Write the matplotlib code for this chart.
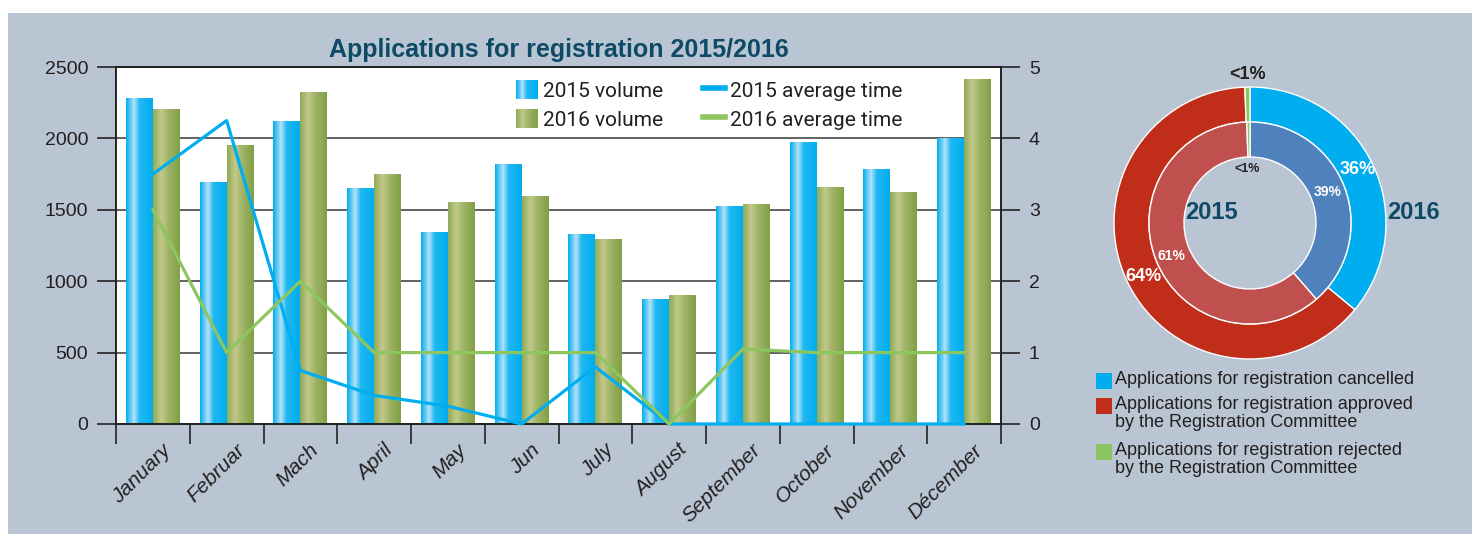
import numpy as np
from matplotlib import pyplot as plt
from matplotlib.patches import Rectangle
from matplotlib.lines import Line2D
from matplotlib.colors import LinearSegmentedColormap
from matplotlib.legend_handler import HandlerBase
from matplotlib.transforms import ScaledTranslation

months = ['January', 'Februar', 'Mach', 'April', 'May', 'Jun', 'July',
          'August', 'September', 'October', 'November', 'Décember']
vol_2015 = [2280, 1690, 2115, 1650, 1340, 1815, 1330, 870, 1520, 1970, 1780, 2000]
vol_2016 = [2200, 1950, 2320, 1750, 1550, 1590, 1290, 900, 1535, 1655, 1620, 2410]
time_2015 = [3.5, 4.25, 0.75, 0.4, 0.25, 0.0, 0.8, 0.0, 0.0, 0.0, 0.0, 0.0]
time_2016 = [3.0, 1.0, 2.0, 1.0, 1.0, 1.0, 1.0, 0.0, 1.05, 1.0, 1.0, 1.0]

# donut: cancelled, approved, rejected (percent)
share_2016 = [36, 63.4, 0.6]
share_2015 = [38.6, 60.9, 0.5]
donut_labels = ['Applications for registration cancelled',
                'Applications for registration approved\nby the Registration Committee',
                'Applications for registration rejected\nby the Registration Committee']

plt.rcParams['font.family'] = ['Liberation Sans Narrow', 'Liberation Sans', 'DejaVu Sans']
TXT = '#231F20'
NAVY = '#0E4A66'
BLUE = '#00AEEF'
GREEN = '#8DC65E'

blue_cmap = LinearSegmentedColormap.from_list(
    'bl', [(0, '#00AEEF'), (0.12, '#4CC3F1'), (0.3, '#B2E3F8'), (0.5, '#22B8F1'), (1, '#00AEEF')])
green_cmap = LinearSegmentedColormap.from_list(
    'gr', [(0, '#8FAA58'), (0.3, '#C2C98A'), (0.6, '#9DB264'), (1, '#80A046')])


class GradientHandler(HandlerBase):
    def __init__(self, cmap):
        super().__init__()
        self.cmap = cmap

    def create_artists(self, legend, orig_handle, xdescent, ydescent,
                       width, height, fontsize, trans):
        n = 24
        arts = []
        for i in range(n):
            arts.append(Rectangle((-xdescent + width * i / n, -ydescent),
                                  width / n * 1.05, height,
                                  facecolor=self.cmap((i + 0.5) / n),
                                  edgecolor='none', transform=trans))
        return arts


fig = plt.figure(figsize=(14.72, 5.34), dpi=100)
fig.patch.set_facecolor('white')
fig.add_artist(Rectangle((8 / 1472, 0), 1, 1 - 13 / 534, transform=fig.transFigure,
                         facecolor='#B9C5D3', edgecolor='none', zorder=-10))

W, H = 1472, 534
ax = fig.add_axes([116 / W, 1 - 424 / H, (1001 - 116) / W, (424 - 67) / H])
ax.set_facecolor('white')
x = np.arange(len(months))
bw = 0.365
b1 = ax.bar(x - bw / 2, vol_2015, bw, color=BLUE, zorder=1)
b2 = ax.bar(x + bw / 2, vol_2016, bw, color='#8FAA58', zorder=1)
grad = np.linspace(0, 1, 64).reshape(1, -1)
for bars, cmap in ((b1, blue_cmap), (b2, green_cmap)):
    for r in bars:
        x0, w, h = r.get_x(), r.get_width(), r.get_height()
        ax.imshow(grad, extent=(x0, x0 + w, 0, h), aspect='auto', cmap=cmap,
                  interpolation='bilinear', zorder=2)
ax.set_xlim(-0.5, len(months) - 0.5)
ax.set_ylim(0, 2500)
ax.set_yticks(np.arange(0, 2501, 500))
ax.set_axisbelow(True)
ax.yaxis.grid(True, color='#555555', lw=1.3)
ax.set_xticks(x)
ax.set_xticks(np.arange(-0.5, len(months)), minor=True)
ax.set_xticklabels(months, rotation=45, ha='right', va='top',
                   fontsize=15, style='italic', color=TXT)
ax.tick_params(axis='x', which='major', length=0, pad=12)
ax.tick_params(axis='x', which='minor', length=14.5, width=1.2, color='#222222', direction='out')
ax.tick_params(axis='y', length=14, width=1.2, color='#222222', labelsize=14,
               labelcolor=TXT, pad=6)
off = ScaledTranslation(22 / 100, 0, fig.dpi_scale_trans)
for lab in ax.get_xticklabels():
    lab.set_transform(lab.get_transform() + off)
for s in ax.spines.values():
    s.set_color('#222222')
    s.set_linewidth(1.2)
ax.set_title('Applications for registration 2015/2016', fontsize=18,
             fontweight='bold', color=NAVY, pad=7)

ax2 = ax.twinx()
ax2.plot(x, time_2015, color=BLUE, lw=2.3, clip_on=False, zorder=3)
ax2.plot(x, time_2016, color=GREEN, lw=2.3, clip_on=False, zorder=3)
ax2.set_ylim(0, 5)
ax2.set_yticks(range(6))
ax2.tick_params(axis='y', length=14, width=1.2, color='#222222', labelsize=14,
                labelcolor=TXT, pad=6)
for s in ax2.spines.values():
    s.set_color('#222222')
    s.set_linewidth(1.2)

p15 = Rectangle((0, 0), 1, 1)
p16 = Rectangle((0, 0), 1, 1)
l15 = Line2D([], [], color=BLUE, lw=4)
l16 = Line2D([], [], color=GREEN, lw=4)
leg = ax2.legend([p15, p16, l15, l16],
                 ['2015 volume', '2016 volume', '2015 average time', '2016 average time'],
                 ncol=2, loc='upper left', bbox_to_anchor=(516 / W, 1 - 80 / H),
                 bbox_transform=fig.transFigure, frameon=False, borderpad=0,
                 borderaxespad=0, handlelength=1.05, handleheight=1.05,
                 handletextpad=0.25, columnspacing=1.9, labelspacing=0.4,
                 prop={'family': 'Roboto', 'size': 15},
                 handler_map={p15: GradientHandler(blue_cmap), p16: GradientHandler(green_cmap)})
for t in leg.get_texts():
    t.set_color(TXT)

# donut
R = 136
dx = fig.add_axes([(1250 - R) / W, 1 - (223 + R) / H, 2 * R / W, 2 * R / H])
ring = 35 / R
wedge = dict(width=ring, edgecolor='white', linewidth=1)
dx.pie(share_2016, radius=1, colors=['#00AEEF', '#C02E1A', '#8CC460'],
       startangle=90, counterclock=False, wedgeprops=wedge)
dx.pie(share_2015, radius=1 - ring, colors=['#4F81BD', '#C0504D', '#8CC460'],
       startangle=90, counterclock=False, wedgeprops=wedge)
dx.set_xlim(-1, 1)
dx.set_ylim(-1, 1)
dx.set_aspect('equal')
dx.axis('off')
cond = dict(ha='center', va='center', fontweight='bold')
dx.text(0.794, 0.397, '36%', color='white', fontsize=13, **cond)
dx.text(0.574, 0.228, '39%', color='white', fontsize=10, **cond)
dx.text(-0.787, -0.39, '64%', color='white', fontsize=13, **cond)
dx.text(-0.574, -0.243, '61%', color='white', fontsize=10, **cond)
dx.text(-0.02, 1.09, '<1%', color=TXT, fontsize=13, **cond)
dx.text(-0.02, 0.40, '<1%', color=TXT, fontsize=9, **cond)
dx.text(-0.287, 0.074, '2015', color=NAVY, fontsize=17, **cond)
dx.text(1.2, 0.074, '2016', color=NAVY, fontsize=17, **cond)

# donut legend
leg_colors = ['#00AEEF', '#C02E1A', '#8CC460']
tops = [373, 398, 444]
for c, top, lab in zip(leg_colors, tops, donut_labels):
    fig.add_artist(Rectangle((1096 / W, 1 - (top + 16) / H), 16 / W, 16 / H,
                             transform=fig.transFigure, facecolor=c, edgecolor='none'))
    fig.text(1115 / W, 1 - (top - 2) / H, lab, ha='left', va='top', fontsize=13,
             color=TXT, linespacing=1.05)

fig.savefig('out.png', dpi=100)
